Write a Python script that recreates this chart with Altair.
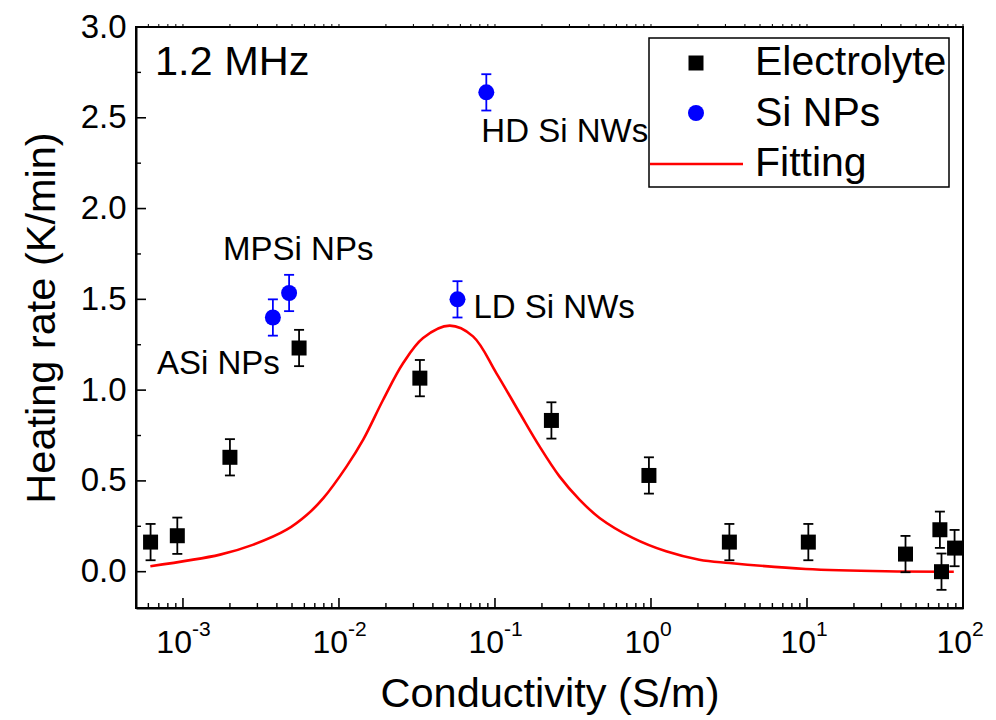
import altair as alt
import pandas as pd

FONT = "Liberation Sans"

# Heating rate of the electrolyte series (conductivity in S/m, rate in K/min)
elec_sigma = [6.2e-4, 9.2e-4, 2.0e-3, 5.55e-3, 0.033, 0.23, 0.97, 3.18, 10.2, 42.8, 71.1, 72.8, 88.3]
elec_rate = [0.163, 0.198, 0.63, 1.232, 1.066, 0.833, 0.53, 0.163, 0.163, 0.097, 0.231, 0.0, 0.13]
elec_err = [0.1] * len(elec_sigma)

# Silicon nanoparticle / nanowire samples
si_names = ["ASi NPs", "MPSi NPs", "LD Si NWs", "HD Si NWs"]
si_sigma = [3.77e-3, 4.79e-3, 0.0575, 0.088]
si_rate = [1.40, 1.535, 1.50, 2.64]
si_err = [0.1] * len(si_sigma)

# Fitted curve
fit_sigma = [6.18e-4, 1.73e-3, 2.83e-3, 4.62e-3, 6.21e-3, 7.94e-3, 0.0112, 0.0143,
             0.0192, 0.0258, 0.0346, 0.0513, 0.0723, 0.102, 0.144, 0.193, 0.259,
             0.348, 0.468, 0.764, 1.25, 2.04, 3.18, 9.82, 31.9, 87.3]
fit_rate = [0.030, 0.094, 0.149, 0.231, 0.312, 0.405, 0.58, 0.727,
            0.947, 1.149, 1.287, 1.355, 1.296, 1.094, 0.874, 0.69, 0.525,
            0.397, 0.296, 0.186, 0.112, 0.066, 0.048, 0.015, 0.002, 0.0]

# Axis tick positions
x_major = [1e-3, 1e-2, 1e-1, 1e0, 1e1, 1e2]
x_exponents = ["-3", "-2", "-1", "0", "1", "2"]
x_minor = [m * 10.0 ** k for k in range(-4, 2) for m in range(2, 10) if 5e-4 < m * 10.0 ** k < 100]
y_major = [0.0, 0.5, 1.0, 1.5, 2.0, 2.5, 3.0]
y_minor = [0.25, 0.75, 1.25, 1.75, 2.25, 2.75]

W, H = 827, 581

elec = pd.DataFrame({"sigma": elec_sigma, "rate": elec_rate, "err": elec_err})
elec["lo"] = elec["rate"] - elec["err"]
elec["hi"] = elec["rate"] + elec["err"]
si = pd.DataFrame({"name": si_names, "sigma": si_sigma, "rate": si_rate, "err": si_err})
si["lo"] = si["rate"] - si["err"]
si["hi"] = si["rate"] + si["err"]
fit = pd.DataFrame({"sigma": fit_sigma, "rate": fit_rate})

XS = alt.Scale(type="log", domain=[5e-4, 100], nice=False)
YS = alt.Scale(domain=[-0.2, 3.0], nice=False, zero=False)

X_AX = alt.Axis(title="Conductivity (S/m)", labels=False, ticks=False, grid=False,
                domainColor="black", domainWidth=2, titleFontSize=41.5,
                titleFont=FONT, titleFontWeight="normal", titlePadding=65, titleColor="black")
Y_AX = alt.Axis(title="Heating rate (K/min)", values=y_major, format=".1f", ticks=False,
                grid=False, labelPadding=10, labelFontSize=33, labelFont=FONT, labelColor="black",
                domainColor="black", domainWidth=2, titleFontSize=41.5, titleFont=FONT,
                titleFontWeight="normal", titlePadding=17, titleColor="black")


def xq(field):
    return alt.X(f"{field}:Q", scale=XS, axis=X_AX)


def yq(field):
    return alt.Y(f"{field}:Q", scale=YS, axis=Y_AX)


one = pd.DataFrame({"k": [0]})

# inward tick marks
xt_major = alt.Chart(pd.DataFrame({"sigma": x_major})).mark_rule(color="black", strokeWidth=1.6).encode(
    x=xq("sigma"), y=alt.value(H), y2=alt.value(H - 10))
xt_minor = alt.Chart(pd.DataFrame({"sigma": x_minor})).mark_rule(color="black", strokeWidth=1.4).encode(
    x=xq("sigma"), y=alt.value(H), y2=alt.value(H - 5))
xt_top = alt.Chart(pd.DataFrame({"sigma": x_major + x_minor})).mark_rule(color="black", strokeWidth=1).encode(
    x=xq("sigma"), y=alt.value(0), y2=alt.value(-3))
yt_major = alt.Chart(pd.DataFrame({"rate": y_major})).mark_rule(color="black", strokeWidth=1.6).encode(
    y=yq("rate"), x=alt.value(0), x2=alt.value(10))
yt_minor = alt.Chart(pd.DataFrame({"rate": y_minor})).mark_rule(color="black", strokeWidth=1.4).encode(
    y=yq("rate"), x=alt.value(0), x2=alt.value(5))

# x tick labels as 10 with a superscript exponent
xlab_df = pd.DataFrame({"sigma": x_major, "exp": x_exponents})
xlab_base = alt.Chart(xlab_df).mark_text(font=FONT, fontSize=32, align="right", baseline="alphabetic",
                                         dx=9, color="black").encode(
    x=xq("sigma"), y=alt.value(H + 45), text=alt.value("10"))
xlab_exp = alt.Chart(xlab_df).mark_text(font=FONT, fontSize=21, align="left", baseline="alphabetic",
                                        dx=9, color="black").encode(
    x=xq("sigma"), y=alt.value(H + 28), text="exp:N")

fit_line = alt.Chart(fit).mark_line(color="#ff0000", strokeWidth=2.6, interpolate="catmull-rom").encode(
    x=xq("sigma"), y=yq("rate"))


def error_layers(df, color):
    bar = alt.Chart(df).mark_rule(color=color, strokeWidth=1.8).encode(
        x=xq("sigma"), y=yq("lo"), y2="hi:Q")
    cap_lo = alt.Chart(df).mark_tick(color=color, orient="horizontal", size=10, thickness=1.8,
                                     opacity=1).encode(x=xq("sigma"), y=yq("lo"))
    cap_hi = alt.Chart(df).mark_tick(color=color, orient="horizontal", size=10, thickness=1.8,
                                     opacity=1).encode(x=xq("sigma"), y=yq("hi"))
    return [bar, cap_lo, cap_hi]


elec_pts = alt.Chart(elec).mark_point(shape="square", filled=True, size=225, color="black",
                                      opacity=1).encode(x=xq("sigma"), y=yq("rate"))
si_pts = alt.Chart(si).mark_point(shape="circle", filled=True, size=256, color="#0000ff",
                                  opacity=1).encode(x=xq("sigma"), y=yq("rate"))

# sample names next to their points
label_offsets = {"ASi NPs": (-116, 56), "MPSi NPs": (-66, -33), "LD Si NWs": (16, 19), "HD Si NWs": (-5, 50)}
si_labels = []
for nm in si_names:
    dx, dy = label_offsets[nm]
    si_labels.append(
        alt.Chart(si).transform_filter(alt.datum.name == nm).mark_text(
            font=FONT, fontSize=33, align="left", baseline="alphabetic", dx=dx, dy=dy, color="black"
        ).encode(x=xq("sigma"), y=yq("rate"), text="name:N"))

freq_label = alt.Chart(one).mark_text(font=FONT, fontSize=41.5, align="left", baseline="alphabetic",
                                      color="black").encode(
    x=alt.value(19), y=alt.value(48), text=alt.value("1.2 MHz"))

# legend box
leg_box = alt.Chart(one).mark_rect(fill="white", stroke="black", strokeWidth=1.5).encode(
    x=alt.value(513), x2=alt.value(813), y=alt.value(11), y2=alt.value(160))
leg_sq = alt.Chart(one).mark_point(shape="square", filled=True, size=225, color="black", opacity=1).encode(
    x=alt.value(560), y=alt.value(36))
leg_ci = alt.Chart(one).mark_point(shape="circle", filled=True, size=256, color="#0000ff", opacity=1).encode(
    x=alt.value(560), y=alt.value(86))
leg_ln = alt.Chart(one).mark_rule(color="#ff0000", strokeWidth=2.6).encode(
    x=alt.value(514), x2=alt.value(607), y=alt.value(137))
leg_texts = []
for txt, base in [("Electrolyte", 48), ("Si NPs", 99), ("Fitting", 149)]:
    leg_texts.append(alt.Chart(one).mark_text(font=FONT, fontSize=41, align="left", baseline="alphabetic",
                                              color="black").encode(
        x=alt.value(619), y=alt.value(base), text=alt.value(txt)))

layers = ([fit_line, xt_major, xt_minor, xt_top, yt_major, yt_minor, xlab_base, xlab_exp]
          + error_layers(elec, "black") + error_layers(si, "#0000ff")
          + [elec_pts, si_pts] + si_labels + [freq_label, leg_box, leg_sq, leg_ci, leg_ln] + leg_texts)

chart = alt.layer(*layers).properties(
    width=W, height=H,
    padding={"left": 136, "top": 27, "right": 33, "bottom": 112},
    autosize=alt.AutoSizeParams(type="none"),
    background="white",
).configure_view(stroke="black", strokeWidth=2)

chart.save("out.html", embed_options={"renderer": "svg", "actions": False})
